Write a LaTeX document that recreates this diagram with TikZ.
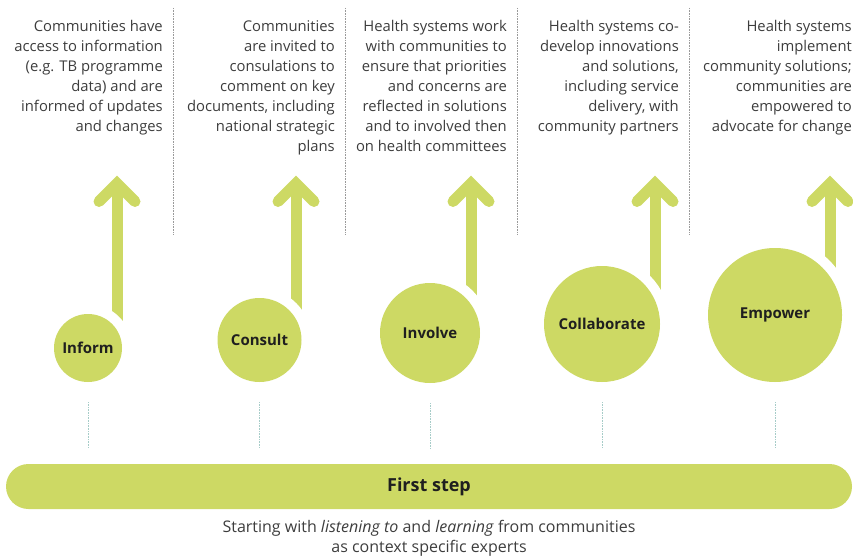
\documentclass[tikz,border=0pt]{standalone}
\usepackage{fontspec}
\setmainfont{Open Sans}
\usepackage{tikz}
\usetikzlibrary{positioning,backgrounds}
\definecolor{stepgreen}{HTML}{CDD964}
\definecolor{bodygrey}{HTML}{3D3D3D}
\definecolor{labelgrey}{HTML}{1F1F1F}
\definecolor{divgrey}{HTML}{9A9A9A}
\definecolor{tickteal}{HTML}{A6CCC8}
\tikzset{
  stage/.style={circle,fill=stepgreen,preaction={draw=white,line width=20pt},inner sep=0pt,text=labelgrey,font=\bfseries\fontsize{15}{17}\selectfont},
  shaft/.style={stepgreen,line width=11pt},
  head/.style={stepgreen,line width=11pt,line cap=round},
  desc/.style={align=right,anchor=north east,inner sep=0pt,text=bodygrey,font=\fontsize{14.8}{20}\selectfont},
  divider/.style={divgrey,line width=0.8pt,dash pattern=on 0.8pt off 0.8pt},
  tick/.style={tickteal,line width=0.8pt,dash pattern=on 0.8pt off 0.8pt},
  base/.style={fill=stepgreen,rounded corners=22.5pt,minimum width=846pt,minimum height=45pt,inner sep=0pt,text=labelgrey,font=\bfseries\fontsize{18}{20}\selectfont},
}

\begin{document}
\begin{tikzpicture}[x=1pt,y=-1pt]
  \useasboundingbox (0,0) rectangle (853,556);

  % stage circles, all resting on one line
  \node[stage,minimum size=68pt]  (inform)  at (88,348)    {Inform};
  \node[stage,minimum size=84pt]  (consult) at (259.5,340) {Consult};
  \node[stage,minimum size=100pt] (involve) at (430,333)   {Involve};
  \node[stage,minimum size=116pt] (collab)  at (602,324)   {Collaborate};
  \node[stage,minimum size=134pt] (empower) at (775,315)   {Empower};

  \coordinate (tipA) at (117,183.5);
  \coordinate (tipB) at (296,183.5);
  \coordinate (tipC) at (471,183.5);
  \coordinate (tipD) at (655,183.5);
  \coordinate (tipE) at (830,183.5);

  % arrows run behind the circles, the white rim cuts them off
  \begin{scope}[on background layer]
  \foreach \t/\c in {tipA/inform,tipB/consult,tipC/involve,tipD/collab,tipE/empower}{
    \draw[shaft] (\t) -- (\t |- \c.center);
    \draw[head] (\t) ++(-18,18) -- (\t) -- ++(18,18);
  }
  \end{scope}

  % descriptions and dividers
  \node[desc] (dA) at (163,20) {Communities have\\access to information\\(e.g. TB programme\\data) and are\\informed of updates\\and changes};
  \node[desc] (dB) at (335,20) {Communities\\are invited to\\consulations to\\comment on key\\documents, including\\national strategic\\plans};
  \node[desc] (dC) at (507,20) {Health systems work\\with communities to\\ensure that priorities\\and concerns are\\reflected in solutions\\and to involved then\\on health committees};
  \node[desc] (dD) at (679,20) {Health systems co-\\develop innovations\\and solutions,\\including service\\delivery, with\\community partners};
  \node[desc] (dE) at (852,20) {Health systems\\implement\\community solutions;\\communities are\\empowered to\\advocate for change};
  \foreach \x in {173,345,517,689}
    \draw[divider] (\x,8) -- (\x,235);

  % base bar
  \node[base] (first) at (429,486.5) {First step};
  \foreach \c in {inform,consult,involve,collab,empower}
    \draw[tick] ([yshift=-20pt]\c.south) -- ([yshift=-66pt]\c.south);
  \node[align=center,text=bodygrey,font=\fontsize{16}{20}\selectfont,below=8pt of first] (note)
    {Starting with \textit{listening to} and \textit{learning} from communities\\as context specific experts};
\end{tikzpicture}
\end{document}
